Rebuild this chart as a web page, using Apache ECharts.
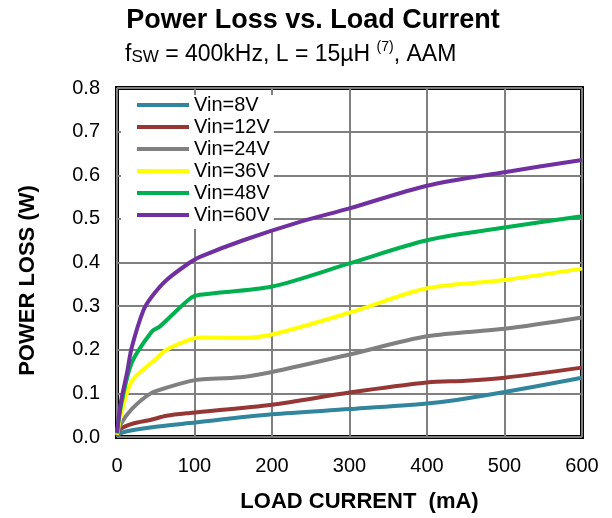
<!DOCTYPE html>
<html><head><meta charset="utf-8">
<script src="https://cdn.jsdelivr.net/npm/echarts@6/dist/echarts.min.js"></script>
<style>html,body{margin:0;padding:0;background:#fff}#c{width:612px;height:518px}</style>
</head><body><div id="c"></div>
<script>
const seriesNames = ['Vin=8V','Vin=12V','Vin=24V','Vin=36V','Vin=48V','Vin=60V'];
const seriesColors = ['#31859C','#953735','#808080','#FFFF00','#00B050','#7030A0'];
const xTicks = [0,100,200,300,400,500,600];
const yTicks = [0,0.1,0.2,0.3,0.4,0.5,0.6,0.7,0.8];

const x8 = [0,5,21,43,94,200,300,400,438,500,600];
const y8 = [0.003,0.009,0.016,0.022,0.032,0.052,0.064,0.077,0.085,0.103,0.136];
const x12 = [0,4,21,43,64,94,200,300,400,450,500,600];
const y12 = [0.003,0.018,0.031,0.039,0.0485,0.055,0.074,0.102,0.125,0.129,0.136,0.159];
const x24 = [0,5,19,43,64,94,107,159,200,300,400,500,600];
const y24 = [0.005,0.03,0.064,0.0995,0.113,0.128,0.132,0.137,0.149,0.189,0.231,0.248,0.274];
const x36 = [0,5,19,47,64,94,107,159,200,300,400,500,600];
const y36 = [0.005,0.05,0.128,0.174,0.2,0.223,0.228,0.227,0.235,0.285,0.341,0.36,0.386];
const x48 = [0,5,19,45,55,94,107,200,300,400,500,600];
const y48 = [0.008,0.07,0.17,0.242,0.253,0.317,0.326,0.345,0.398,0.451,0.48,0.506];
const x60 = [0,5,13,19,34,45,64,94,107,163,236,300,400,500,600];
const y60 = [0.01,0.08,0.148,0.205,0.29,0.322,0.36,0.40,0.413,0.451,0.493,0.524,0.576,0.607,0.635];

const xs = [x8,x12,x24,x36,x48,x60];
const ys = [y8,y12,y24,y36,y48,y60];

const chart = echarts.init(document.getElementById('c'), null, {renderer:'canvas'});
const FONT = 'Liberation Sans, Arial, sans-serif';
chart.setOption({
  animation:false,
  backgroundColor:'#fff',
  title:[{
    text:'Power Loss vs. Load Current',
    left:308, top:2, textAlign:'center',
    textStyle:{fontFamily:FONT,fontWeight:'bold',fontSize:27,color:'#000'}
  },{
    text:'{a|f}{b|SW}{a| = 400kHz, L = 15µH }{s|(7)}{a|, AAM}',
    left:120, top:35,
    textStyle:{fontWeight:'normal',rich:{
      a:{fontFamily:FONT,fontWeight:'normal',fontSize:23,color:'#000',verticalAlign:'bottom',lineHeight:26},
      b:{fontFamily:FONT,fontWeight:'normal',fontSize:17,color:'#000',verticalAlign:'bottom',lineHeight:26},
      s:{fontFamily:FONT,fontWeight:'normal',fontSize:14,color:'#000',verticalAlign:'top',lineHeight:26}
    }}
  }],
  legend:{
    data:seriesNames,
    orient:'vertical',
    left:121, top:95,
    itemWidth:52, itemHeight:4, itemGap:2,
    icon:'rect',
    padding:[0,4,4,16],
    backgroundColor:'#fff',
    textStyle:{fontFamily:FONT,fontSize:20,color:'#000',lineHeight:20}
  },
  grid:{left:117,right:30,top:88,bottom:80,show:true,borderColor:'#000',borderWidth:4,backgroundColor:'transparent'},
  xAxis:{
    type:'value',min:0,max:600,interval:100,
    name:'LOAD CURRENT  (mA)',nameLocation:'middle',nameGap:54,
    nameTextStyle:{fontFamily:FONT,fontWeight:'bold',fontSize:22,color:'#000',padding:[0,0,0,20]},
    axisLine:{show:false},axisTick:{show:false},
    axisLabel:{fontFamily:FONT,fontSize:20,color:'#000',margin:19},
    splitLine:{show:true,lineStyle:{color:'#808080',width:2}}
  },
  yAxis:{
    type:'value',min:0,max:0.8,interval:0.1,
    name:'POWER LOSS (W)',nameLocation:'middle',nameGap:78,
    nameTextStyle:{fontFamily:FONT,fontWeight:'bold',fontSize:22,color:'#000',padding:[0,36,0,0]},
    axisLine:{show:false},axisTick:{show:false},
    axisLabel:{fontFamily:FONT,fontSize:20,color:'#000',margin:17,formatter:v=>v.toFixed(1)},
    splitLine:{show:true,lineStyle:{color:'#808080',width:2}}
  },
  series: seriesNames.map((n,i)=>({
    name:n,type:'line',smooth:0.3,showSymbol:false,symbol:'none',
    data: xs[i].map((x,j)=>[x,ys[i][j]]),
    lineStyle:{color:seriesColors[i],width:4},
    itemStyle:{color:seriesColors[i]},
    z:2+i
  }))
});
</script></body></html>
